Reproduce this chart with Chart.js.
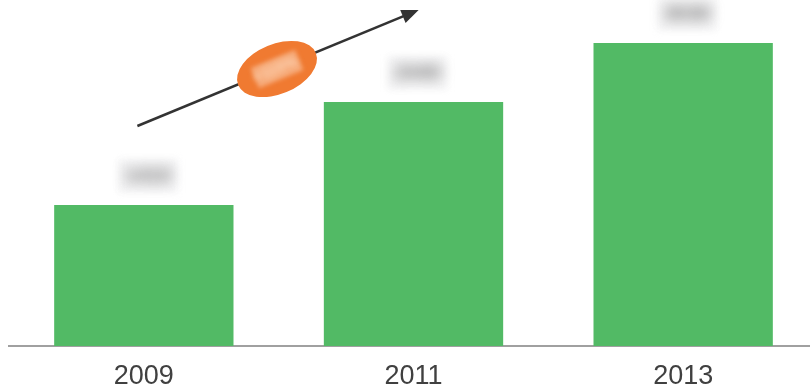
<!DOCTYPE html>
<html>
<head>
<meta charset="utf-8">
<script src="https://cdn.jsdelivr.net/npm/chart.js@4/dist/chart.umd.min.js"></script>
<style>
 html,body{margin:0;padding:0;background:#fff;overflow:hidden;}
 #wrap{width:818px;height:390px;position:relative;}
</style>
</head>
<body>
<div id="wrap"><canvas id="c"></canvas></div>
<script>
const years=["2009","2011","2013"];
const values=[141,244,303];
const valueLabels=["1410","2440","3030"];
// trend arrow: [category position, value]
const trendFrom=[-0.024,220];
const trendTo=[1.019,336];
const trendLabel="+115%";

const extras={
 id:"extras",
 afterDatasetsDraw(chart){
   const ctx=chart.ctx;
   const xs=chart.scales.x, ys=chart.scales.y;
   // blurred value labels
   ctx.save();
   ctx.textAlign="center";
   ctx.textBaseline="middle";
   values.forEach((v,i)=>{
     const cx=xs.getPixelForValue(i)+4, cy=ys.getPixelForValue(v)-29;
     ctx.filter="blur(3px)";
     ctx.fillStyle="rgba(238,238,240,0.6)";
     ctx.fillRect(cx-30,cy-17,60,34);
     ctx.filter="blur(7px)";
     ctx.fillStyle="#6e6e6e";
     ctx.font="bold 21px 'Liberation Sans', Arial";
     ctx.fillText(valueLabels[i],cx,cy);
   });
   ctx.restore();

   // trend arrow
   const x1=xs.getPixelForValue(trendFrom[0]), y1=ys.getPixelForValue(trendFrom[1]);
   const x2=xs.getPixelForValue(trendTo[0]), y2=ys.getPixelForValue(trendTo[1]);
   const ang=Math.atan2(y2-y1,x2-x1);
   const head=17;
   ctx.save();
   ctx.strokeStyle="#333";
   ctx.fillStyle="#333";
   ctx.lineWidth=2.5;
   ctx.beginPath();
   ctx.moveTo(x1,y1);
   ctx.lineTo(x2-Math.cos(ang)*head*0.8,y2-Math.sin(ang)*head*0.8);
   ctx.stroke();
   ctx.beginPath();
   ctx.moveTo(x2,y2);
   ctx.lineTo(x2-head*Math.cos(ang)+7*Math.sin(ang),y2-head*Math.sin(ang)-7*Math.cos(ang));
   ctx.lineTo(x2-head*Math.cos(ang)-7*Math.sin(ang),y2-head*Math.sin(ang)+7*Math.cos(ang));
   ctx.closePath();
   ctx.fill();

   // orange badge at arrow midpoint
   const mx=(x1+x2)/2-1, my=(y1+y2)/2+1;
   ctx.fillStyle="#F07A31";
   ctx.beginPath();
   ctx.ellipse(mx,my,42,25,ang,0,Math.PI*2);
   ctx.fill();
   ctx.translate(mx,my);
   ctx.rotate(ang);
   ctx.filter="blur(2px)";
   ctx.fillStyle="rgba(250,190,150,0.7)";
   ctx.fillRect(-24,-11,48,22);
   ctx.filter="blur(3px)";
   ctx.fillStyle="#fcd9bd";
   ctx.font="bold 15px 'Liberation Sans', Arial";
   ctx.textAlign="center";
   ctx.textBaseline="middle";
   ctx.fillText(trendLabel,-2,0);
   ctx.restore();
 }
};

new Chart(document.getElementById("c"),{
 type:"bar",
 data:{
   labels:years,
   datasets:[{
     data:values,
     backgroundColor:"#52BA65",
     borderWidth:0,
     categoryPercentage:1,
     barPercentage:0.665
   }]
 },
 options:{
   responsive:true,
   maintainAspectRatio:false,
   animation:false,
   layout:{padding:{left:9,right:0,top:0,bottom:0}},
   plugins:{legend:{display:false},tooltip:{enabled:false}},
   scales:{
     x:{
       grid:{display:false,drawTicks:false},
       border:{display:true,color:"#a0a0a0",width:2},
       ticks:{
         color:"#404040",
         padding:14,
         font:{family:"'Liberation Sans', Arial",size:27}
       },
       afterFit(s){s.height=44;}
     },
     y:{display:false,min:0,max:346}
   }
 },
 plugins:[extras]
});
</script>
</body>
</html>
